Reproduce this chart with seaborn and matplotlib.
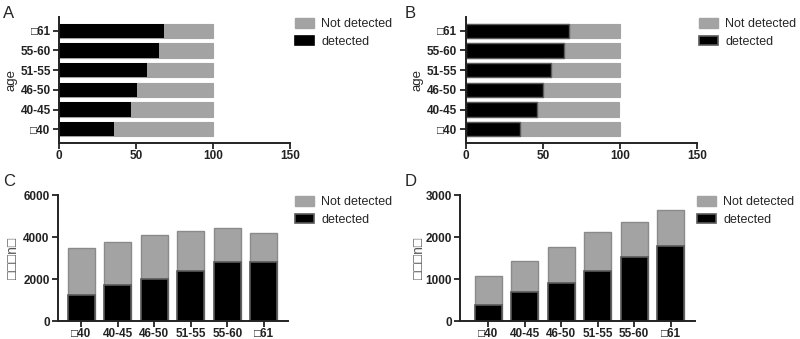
import matplotlib
matplotlib.use('Agg')

import matplotlib.pyplot as plt
from matplotlib.patches import Patch
import seaborn as sns

# 年齡組別 (□ 為原圖中無法顯示的字元)
ages_h = ['□61', '55-60', '51-55', '46-50', '40-45', '□40']   # 由上到下
ages_v = ['□40', '40-45', '46-50', '51-55', '55-60', '□61']   # 由左到右

a_total = [100, 100, 100, 100, 100, 100]
a_detected = [68, 65, 57, 50.5, 47, 36]
b_total = [100, 100, 100, 100, 99.5, 100]
b_detected = [67, 64, 55.5, 50, 46, 35]

c_total = [3500, 3750, 4080, 4300, 4430, 4210]
c_detected = [1240, 1710, 2000, 2380, 2800, 2800]
d_total = [1060, 1440, 1760, 2120, 2350, 2650]
d_detected = [380, 680, 900, 1200, 1520, 1790]

legend_labels = ['Not detected', 'detected']
GREY = '#a3a3a3'
EDGE = '#5a5a5a'

sns.set_style('ticks')
plt.rcParams['font.family'] = ['Liberation Sans', 'DejaVu Sans']

W, H = 800, 339
fig = plt.figure(figsize=(W / 100, H / 100), dpi=100)


def rect(left, right, top, bottom):
    return [left / W, 1 - bottom / H, (right - left) / W, (bottom - top) / H]


def style_axes(ax):
    sns.despine(ax=ax)
    for s in ('left', 'bottom'):
        ax.spines[s].set_linewidth(1.4)
        ax.spines[s].set_color('#222222')
    ax.tick_params(direction='out', length=4, width=1.3, labelsize=8.5, pad=2, colors='#222222')
    ax.tick_params(axis='x', pad=1)
    for lab in ax.get_xticklabels() + ax.get_yticklabels():
        lab.set_fontweight('bold')


def add_legend(ax, x, y, edge):
    handles = [Patch(facecolor=GREY, edgecolor=GREY),
               Patch(facecolor='black', edgecolor=EDGE if edge else 'black', linewidth=1.2)]
    ax.legend(handles, legend_labels, loc='upper left', bbox_to_anchor=(x / W, 1 - y / H),
              bbox_transform=fig.transFigure, frameon=False, fontsize=9,
              handlelength=1.55, handleheight=0.8, labelspacing=0.45, handletextpad=0.55,
              borderaxespad=0, borderpad=0)


def set_ylabel_x(ax, box, x_center):
    # 旋轉後的 y 軸標籤以右緣對齊，補上半個字高
    ax.yaxis.set_label_coords((x_center + 5 - box[0]) / (box[1] - box[0]), 0.5)


def hbar_panel(box, total, detected, letter, lx, leg_xy, edge, label_x):
    ax = fig.add_axes(rect(*box))
    sns.barplot(x=total, y=ages_h, orient='h', color=GREY, width=0.73,
                edgecolor=GREY, linewidth=0.8, ax=ax, saturation=1)
    sns.barplot(x=detected, y=ages_h, orient='h', color='black', width=0.73,
                edgecolor=EDGE if edge else 'black', linewidth=1.0 if edge else 0,
                ax=ax, saturation=1)
    ax.set_xlim(0, 150)
    ax.set_xticks([0, 50, 100, 150])
    ax.set_ylim(5.7, -0.7)
    ax.set_ylabel('age', fontsize=9.5)
    set_ylabel_x(ax, box, label_x)
    ax.set_xlabel('')
    style_axes(ax)
    fig.text(lx / W, 1 - 13 / H, letter, fontsize=12, va='center', ha='left')
    add_legend(ax, leg_xy[0], leg_xy[1], edge)
    return ax


def vbar_panel(box, total, detected, ymax, letter, lx, leg_xy, xlim, label_x):
    ax = fig.add_axes(rect(*box))
    sns.barplot(x=ages_v, y=total, color=GREY, width=0.74,
                edgecolor='#8a8a8a', linewidth=1.0, ax=ax, saturation=1)
    sns.barplot(x=ages_v, y=detected, color='black', width=0.74,
                edgecolor=EDGE, linewidth=1.2, ax=ax, saturation=1)
    ax.set_ylim(0, ymax)
    ax.set_yticks([0, ymax / 3, 2 * ymax / 3, ymax])
    ax.set_xlim(*xlim)
    ax.set_ylabel('□□□n□', fontsize=10, color='#555555')
    set_ylabel_x(ax, box, label_x)
    ax.set_xlabel('')
    style_axes(ax)
    fig.text(lx / W, 1 - 181 / H, letter, fontsize=12, va='center', ha='left')
    add_legend(ax, leg_xy[0], leg_xy[1], True)
    return ax


hbar_panel((59, 290, 17, 143), a_total, a_detected, 'A', 3, (295, 18), False, 12)
hbar_panel((465.7, 697, 17, 143), b_total, b_detected, 'B', 405, (699, 18), True, 418)
vbar_panel((58, 288, 195, 321), c_total, c_detected, 6000, 'C', 3, (295, 196),
           (-0.64, 5.66), 15)
vbar_panel((460, 695, 195, 321), d_total, d_detected, 3000, 'D', 405, (697, 196),
           (-0.77, 5.67), 421)

fig.savefig('out.png', dpi=100)
plt.close(fig)
